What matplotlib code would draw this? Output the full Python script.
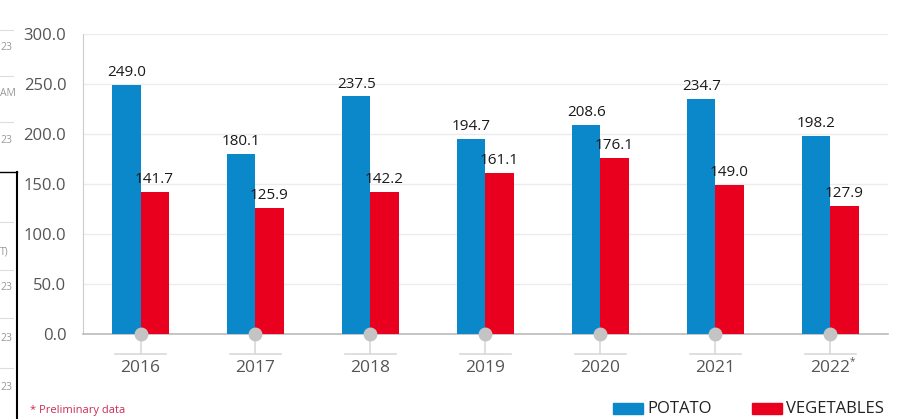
import matplotlib.pyplot as plt
import matplotlib.patches as mpatches
import numpy as np

years = ['2016', '2017', '2018', '2019', '2020', '2021', '2022']
potato = [249.0, 180.1, 237.5, 194.7, 208.6, 234.7, 198.2]
vegetables = [141.7, 125.9, 142.2, 161.1, 176.1, 149.0, 127.9]
y_ticks = [0, 50, 100, 150, 200, 250, 300]

blue = '#0a88c9'
red = '#e9001e'
grey_txt = '#555555'
light = '#d9d9d9'

plt.rcParams['font.family'] = ['Open Sans', 'DejaVu Sans']

fig = plt.figure(figsize=(9.12, 4.19), dpi=100)
ax = fig.add_axes([83 / 912, 85 / 419, 805 / 912, 300 / 419])

x = np.arange(len(years))
w = 0.245
ax.bar(x - w / 2, potato, w, color=blue, zorder=3)
ax.bar(x + w / 2, vegetables, w, color=red, zorder=3)

for i in range(len(years)):
    ax.text(x[i] - w / 2, potato[i] + 5, f'{potato[i]:.1f}', ha='center', va='bottom',
            fontsize=11, color='#1a1a1a')
    ax.text(x[i] + w / 2, vegetables[i] + 5, f'{vegetables[i]:.1f}', ha='center', va='bottom',
            fontsize=11, color='#1a1a1a')
    # little stem under each category
    ax.plot([x[i], x[i]], [0, -20], color=light, lw=1.2, clip_on=False, zorder=2)
    ax.plot([x[i] - 0.22, x[i] + 0.22], [-20, -20], color=light, lw=1.2, clip_on=False, zorder=2)
    ax.plot(x[i], 0, 'o', ms=9, color='#c4c4c4', clip_on=False, zorder=5)
    ax.text(x[i], -34, years[i], ha='center', va='center', fontsize=12.5, color=grey_txt)
ax.text(x[-1] + 0.185, -28, '*', ha='center', va='center', fontsize=7, color=grey_txt)

ax.set_xlim(-0.5, 6.5)
ax.set_ylim(0, 300)
ax.set_xticks([])
ax.set_yticks(y_ticks)
ax.set_yticklabels([f'{v:.1f}' for v in y_ticks], fontsize=12, color=grey_txt)
ax.tick_params(axis='y', length=0, pad=12)
ax.grid(axis='y', color='#ececec', lw=1, zorder=0)
for s in ['top', 'right']:
    ax.spines[s].set_visible(False)
ax.spines['left'].set_color('#cccccc')
ax.spines['bottom'].set_color('#bbbbbb')
ax.spines['bottom'].set_linewidth(1.2)

# legend and footnote
fig.patches.append(mpatches.Rectangle((613 / 912, 5 / 419), 30 / 912, 11 / 419,
                                      transform=fig.transFigure, color=blue))
fig.text(647 / 912, 10 / 419, 'POTATO', fontsize=12, va='center', color='#222222')
fig.patches.append(mpatches.Rectangle((752 / 912, 5 / 419), 30 / 912, 11 / 419,
                                      transform=fig.transFigure, color=red))
fig.text(786 / 912, 10 / 419, 'VEGETABLES', fontsize=12, va='center', color='#222222')
fig.text(30 / 912, 9 / 419, '* Preliminary data', fontsize=8, va='center', color='#cc2a55')

# fragments of the neighbouring page at the left edge
for yy, t in [(47, '23'), (93, 'AM'), (140, '23'), (252, 'T)'), (288, '23'), (338, '23'), (387, '23')]:
    fig.text(0, 1 - yy / 419, t, fontsize=7.5, va='center', color='#999999')
for yy in [30, 76, 122, 222, 270, 318, 368]:
    fig.add_artist(plt.Line2D([0, 13 / 912], [1 - yy / 419] * 2, color='#dddddd', lw=0.8))
fig.add_artist(plt.Line2D([0, 17 / 912], [1 - 172 / 419] * 2, color='black', lw=1))
fig.add_artist(plt.Line2D([17 / 912, 17 / 912], [1 - 172 / 419, 0], color='black', lw=1.5))

fig.savefig('out.png', dpi=100)
